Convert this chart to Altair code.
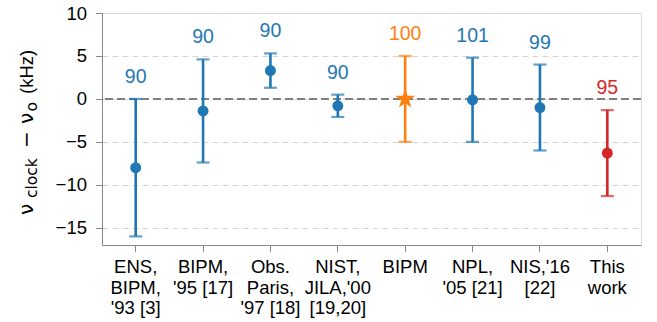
import math
import altair as alt
import pandas as pd

# ---------------- data ----------------
categories = ["ENS,|BIPM,|'93 [3]", "BIPM,|'95 [17]", "Obs.|Paris,|'97 [18]",
              "NIST,|JILA,'00|[19,20]", "BIPM", "NPL,|'05 [21]", "NIS,'16|[22]", "This|work"]
values = [-8.0, -1.4, 3.3, -0.8, 0.0, -0.1, -1.0, -6.3]
errors = [8.0, 6.0, 2.0, 1.3, 5.0, 4.9, 5.0, 5.0]
annotations = ["90", "90", "90", "90", "100", "101", "99", "95"]
groups = ["previous", "previous", "previous", "previous", "reference",
          "previous", "previous", "this work"]
y_ticks = [-15, -10, -5, 0, 5, 10]

df = pd.DataFrame({
    "cat": categories,
    "val": values,
    "err": errors,
    "ann": annotations,
    "grp": groups,
})
df["lo"] = df["val"] - df["err"]
df["hi"] = df["val"] + df["err"]

FONT = "Liberation Sans"
MATH = "DejaVu Sans"
color_scale = alt.Scale(domain=["previous", "reference", "this work"],
                        range=["#1f77b4", "#ff7f0e", "#d62728"])

# five-pointed star symbol path (unit box)
pts = []
for k in range(10):
    r = 1.0 if k % 2 == 0 else 0.382
    a = math.radians(90 + 36 * k)
    pts.append((r * math.cos(a), -r * math.sin(a)))
star_path = "M" + " L".join(f"{px:.4f},{py:.4f}" for px, py in pts) + " Z"

x_enc = alt.X("cat:N", sort=categories,
              scale=alt.Scale(paddingInner=0, paddingOuter=0),
              axis=alt.Axis(title=None, labelAngle=0, labelExpr="split(datum.value, '|')",
                            labelFontSize=18.5, labelLineHeight=20.5, labelPadding=6,
                            labelBaseline="top", labelOverlap=False, tickSize=6.5,
                            grid=False))
y_scale = alt.Scale(domain=[-17, 10], nice=False, zero=False)
y_axis = alt.Axis(title=None, values=y_ticks, labelFontSize=18.5, labelPadding=9,
                  tickSize=6.5, grid=True, gridDash=[6, 4], gridColor="#d5d5d5",
                  gridWidth=1.2)

base = alt.Chart(df)

grid_layer = base.mark_point(opacity=0).encode(
    x=x_enc, y=alt.Y("val:Q", scale=y_scale, axis=y_axis))

zero_line = alt.Chart(pd.DataFrame({"z": [0]})).mark_rule(
    color="#808080", strokeWidth=2, strokeDash=[8, 4]).encode(y=alt.Y("z:Q", scale=y_scale))

color_enc = alt.Color("grp:N", scale=color_scale, legend=None)

bars = base.mark_rule(strokeWidth=2.6).encode(
    x=x_enc, y=alt.Y("lo:Q", scale=y_scale), y2="hi:Q", color=color_enc)
caps_lo = base.mark_tick(size=13, thickness=2.2).encode(
    x=x_enc, y=alt.Y("lo:Q", scale=y_scale), color=color_enc)
caps_hi = base.mark_tick(size=13, thickness=2.2).encode(
    x=x_enc, y=alt.Y("hi:Q", scale=y_scale), color=color_enc)

dots = base.transform_filter(alt.datum.grp != "reference").mark_point(
    filled=True, size=120, opacity=1, shape="circle").encode(
    x=x_enc, y=alt.Y("val:Q", scale=y_scale), color=color_enc)
star = base.transform_filter(alt.datum.grp == "reference").mark_point(
    filled=True, size=450, opacity=1, shape=star_path).encode(
    x=x_enc, y=alt.Y("val:Q", scale=y_scale), color=color_enc)

ann = base.mark_text(fontSize=19.5, font=FONT, baseline="middle", dy=-22).encode(
    x=x_enc, y=alt.Y("hi:Q", scale=y_scale), text="ann:N", color=color_enc)

# ---------------- y-axis title with subscripts ----------------
one = pd.DataFrame({"a": [0]})
# (text, font, size, baseline x, start y) in plot-area pixels
segments = [
    ("ν", MATH, 20, -69, 202),
    ("clock", MATH, 15.5, -65.5, 185),
    ("−", MATH, 20, -69, 135),
    ("ν", MATH, 20, -69, 111),
    ("o", MATH, 15.5, -65.5, 98.5),
    ("(kHz)", FONT, 18.5, -69, 81),
]
title_layers = []
for txt, fnt, fs, xb, ys in segments:
    title_layers.append(
        alt.Chart(one).mark_text(angle=270, align="left", baseline="alphabetic",
                                 font=fnt, fontSize=fs, color="black").encode(
            x=alt.value(xb), y=alt.value(ys), text=alt.value(txt)))

chart = alt.layer(grid_layer, zero_line, bars, caps_lo, caps_hi, dots, star, ann,
                  *title_layers).properties(
    width=539, height=232,
    autosize=alt.AutoSizeParams(type="none"),
    padding={"left": 102, "top": 13, "right": 16, "bottom": 77},
).configure_view(stroke="black", strokeWidth=1.2).configure_axis(
    domainColor="black", domainWidth=1.2, tickColor="black", tickWidth=1.2,
    labelColor="black", labelFont=FONT, titleFont=FONT,
).configure(background="white")

chart.save("out.html", embed_options={"renderer": "svg", "actions": False})
